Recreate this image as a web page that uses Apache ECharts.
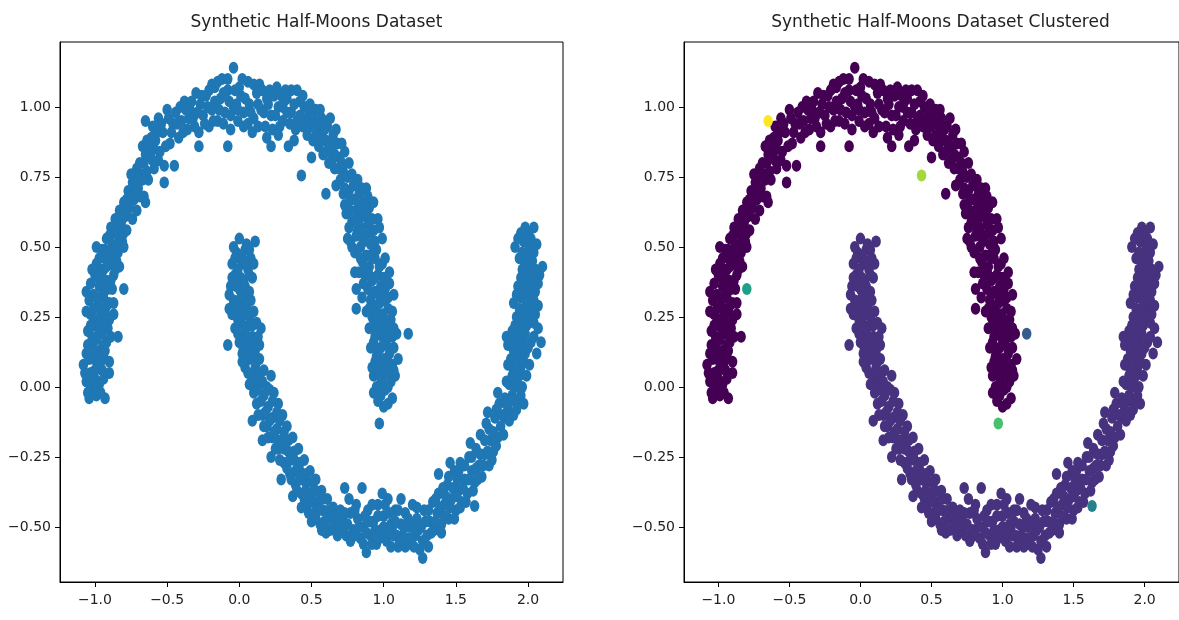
<!DOCTYPE html>
<html>
<head>
<meta charset="utf-8">
<script src="https://cdn.jsdelivr.net/npm/echarts@6/dist/echarts.min.js"></script>
<style>
html,body{margin:0;padding:0;background:#fff;}
#chart{width:1179px;height:620px;}
</style>
</head>
<body>
<div id="chart"></div>
<script>
// ---- DATA ----
const titles = ['Synthetic Half-Moons Dataset', 'Synthetic Half-Moons Dataset Clustered'];
const xTickVals = [-1.0, -0.5, 0.0, 0.5, 1.0, 1.5, 2.0];
const xTickLabels = ['\u22121.0', '\u22120.5', '0.0', '0.5', '1.0', '1.5', '2.0'];
const yTickVals = [-0.5, -0.25, 0.0, 0.25, 0.5, 0.75, 1.0];
const yTickLabels = ['\u22120.50', '\u22120.25', '0.00', '0.25', '0.50', '0.75', '1.00'];

// upper moon (cluster 0)
const upperMoon = [
[1.03,-0.06],[0.98,-0.03],[1.01,-0.01],[0.95,0.00],[1.05,0.02],[0.99,0.03],[0.93,0.04],[1.02,0.05],[0.97,0.07],[1.06,0.08],
[0.94,0.09],[1.00,0.10],[1.04,0.12],[0.96,0.13],[0.91,0.14],[1.02,0.15],[0.98,0.01],[1.08,0.04],[1.10,0.10],
[1.00,-0.07],[0.96,-0.05],[1.06,-0.04],[0.93,-0.02],[1.03,0.00],[0.97,0.04],[1.07,0.06],[1.00,0.07],[0.92,0.07],[0.95,0.11],
[1.03,0.09],[0.98,0.14],[1.07,0.14],
[0.93,0.16],[1.00,0.17],[1.06,0.18],[0.96,0.19],[1.09,0.19],[0.90,0.21],[1.02,0.21],[0.97,0.23],[1.05,0.24],[0.92,0.25],
[0.99,0.26],[0.88,0.27],[1.03,0.28],[0.95,0.29],[0.81,0.28],[0.91,0.31],[1.00,0.31],[1.07,0.33],[0.94,0.34],[0.89,0.35],
[0.98,0.36],[0.81,0.35],[1.04,0.37],[0.92,0.38],[0.87,0.40],[0.96,0.40],[0.80,0.41],[1.04,0.41],[0.90,0.43],[0.99,0.44],
[0.85,0.45],[0.94,0.46],
[0.94,0.18],[1.03,0.18],[0.99,0.20],[0.93,0.22],[1.07,0.21],[1.01,0.24],[0.95,0.26],[0.90,0.28],[1.06,0.27],[0.97,0.30],
[1.03,0.32],[0.92,0.33],[0.97,0.33],[0.85,0.32],[1.01,0.35],[0.86,0.37],[0.94,0.39],[1.00,0.39],[0.90,0.40],[0.83,0.41],
[0.97,0.43],[0.87,0.43],[1.01,0.46],[0.91,0.47],
[0.88,0.47],[0.80,0.48],[0.95,0.49],[0.84,0.50],[0.91,0.51],[0.77,0.52],[0.99,0.53],[0.87,0.54],[0.75,0.53],[0.82,0.56],
[0.93,0.56],[0.89,0.58],[0.78,0.59],[0.85,0.61],[0.96,0.60],[0.74,0.62],[0.81,0.63],[0.90,0.64],[0.86,0.66],[0.77,0.67],
[0.83,0.69],[0.72,0.69],[0.88,0.71],[0.85,0.71],[0.79,0.72],[0.70,0.74],[0.75,0.75],[0.60,0.69],
[0.84,0.46],[0.78,0.50],[0.86,0.52],[0.94,0.52],[0.81,0.54],[0.90,0.55],[0.97,0.57],[0.84,0.57],[0.76,0.57],[0.92,0.60],
[0.81,0.60],[0.88,0.62],[0.77,0.63],[0.84,0.64],[0.93,0.66],[0.73,0.65],[0.80,0.67],[0.89,0.68],[0.76,0.70],[0.82,0.74],
[0.67,0.72],[0.78,0.76],[0.73,0.71],
[0.72,0.77],[0.66,0.78],[0.76,0.80],[0.62,0.80],[0.69,0.82],[0.58,0.83],[0.73,0.84],[0.64,0.85],[0.55,0.86],[0.68,0.87],
[0.60,0.88],[0.51,0.88],[0.65,0.90],[0.56,0.91],[0.47,0.90],[0.61,0.93],[0.52,0.94],[0.44,0.93],[0.57,0.96],[0.48,0.97],
[0.40,0.95],[0.53,0.99],[0.45,1.00],[0.38,0.88],[0.34,0.86],[0.50,0.82],
[0.69,0.78],[0.64,0.81],[0.71,0.80],[0.60,0.84],[0.66,0.83],[0.71,0.87],[0.62,0.87],[0.57,0.88],[0.53,0.90],[0.67,0.92],
[0.59,0.92],[0.49,0.93],[0.55,0.94],[0.63,0.96],[0.51,0.97],[0.46,0.95],[0.42,0.97],[0.49,1.01],[0.56,0.99],
[0.42,1.02],[0.36,0.98],[0.40,1.06],[0.33,1.03],[0.30,0.95],[0.36,1.06],[0.32,1.06],[0.27,1.00],[0.24,1.04],[0.28,0.93],
[0.22,0.97],[0.19,1.03],[0.26,1.07],[0.15,0.99],[0.18,0.93],[0.12,1.05],[0.10,0.96],[0.14,1.08],[0.07,1.01],[0.06,0.94],
[0.06,1.09],[0.03,0.98],[0.01,1.04],[-0.01,0.95],[0.00,1.07],[-0.04,1.14],[-0.04,1.00],[-0.06,0.92],[-0.08,1.06],[-0.10,0.98],
[-0.12,1.10],[-0.13,1.03],[-0.15,0.95],[-0.17,1.07],[-0.19,1.08],[-0.19,0.99],[-0.21,0.93],[-0.23,1.04],[-0.25,0.97],[-0.27,1.01],
[-0.28,0.91],[-0.30,1.05],[-0.32,0.96],[-0.34,0.99],[-0.36,0.92],[-0.38,1.02],[-0.40,0.95],[-0.42,0.89],[-0.44,0.98],[0.22,0.86],
[-0.08,0.86],[-0.28,0.86],[0.09,0.91],[0.20,1.01],[-0.02,1.01],[0.30,1.00],
[0.44,1.04],[0.38,1.01],[0.39,0.92],[0.35,0.94],[0.31,1.02],[0.33,0.98],[0.25,0.97],[0.29,1.04],[0.21,1.06],[0.23,0.92],
[0.17,0.98],[0.16,1.06],[0.13,1.01],[0.13,0.93],[0.10,1.08],[0.08,0.98],[0.04,1.03],[0.03,0.93],[0.02,1.10],[-0.01,0.99],
[-0.03,1.06],[-0.06,0.97],[-0.07,1.02],[-0.08,1.10],[-0.11,0.94],[-0.11,1.05],[-0.14,0.99],[-0.15,1.09],[-0.17,1.02],[-0.18,0.95],
[-0.21,1.06],[-0.22,1.00],[-0.24,0.94],[-0.26,1.04],[-0.29,0.98],[-0.31,0.93],[-0.33,1.02],[-0.35,0.96],[-0.37,0.99],[-0.39,0.91],
[-0.41,1.00],[-0.43,0.94],[0.27,0.90],[0.19,0.89],
[-0.46,0.94],[-0.50,0.99],[-0.48,0.87],[-0.53,0.91],[-0.56,0.96],[-0.55,0.84],[-0.58,0.88],[-0.60,0.93],[-0.52,0.79],[-0.62,0.83],
[-0.64,0.88],[-0.45,0.79],[-0.66,0.80],[-0.59,0.78],[-0.68,0.76],[-0.63,0.74],[-0.71,0.78],[-0.70,0.71],[-0.74,0.73],[-0.66,0.68],
[-0.73,0.67],[-0.77,0.70],[-0.76,0.64],[-0.80,0.66],[-0.65,0.66],[-0.52,0.73],[-0.79,0.61],[-0.83,0.63],[-0.82,0.58],[-0.86,0.60],
[-0.78,0.56],[-0.85,0.55],[-0.89,0.57],[-0.81,0.52],[-0.88,0.51],[-0.92,0.53],[-0.84,0.48],[-0.91,0.47],[-0.95,0.49],[-0.87,0.45],
[-0.47,0.91],[-0.49,0.96],[-0.51,0.86],[-0.54,0.94],[-0.57,0.91],[-0.56,0.81],[-0.59,0.85],[-0.61,0.89],[-0.60,0.81],[-0.63,0.86],
[-0.65,0.83],[-0.67,0.86],[-0.64,0.77],[-0.67,0.74],[-0.69,0.80],[-0.71,0.75],[-0.69,0.68],[-0.72,0.71],[-0.75,0.76],[-0.75,0.68],
[-0.71,0.63],[-0.78,0.67],[-0.74,0.60],[-0.78,0.63],[-0.81,0.60],[-0.84,0.58],[-0.80,0.55],[-0.83,0.53],[-0.87,0.55],[-0.90,0.54],
[-0.86,0.50],[-0.80,0.50],[-0.89,0.48],[-0.93,0.46],[-0.85,0.45],
[-0.97,0.46],[-0.90,0.44],[-0.83,0.43],[-0.94,0.42],[-1.00,0.40],[-0.87,0.40],[-0.92,0.38],[-0.97,0.36],[-0.88,0.35],[-1.01,0.33],
[-0.94,0.32],[-0.90,0.30],[-1.06,0.34],[-0.98,0.29],[-0.93,0.27],[-1.03,0.26],[-0.87,0.26],[-0.96,0.24],[-1.00,0.22],[-0.91,0.21],
[-1.05,0.20],[-0.95,0.19],[-0.99,0.17],[-0.92,0.16],[-0.84,0.18],[-1.03,0.15],[-0.97,0.13],[-1.06,0.12],[-0.94,0.11],[-1.01,0.10],
[-0.98,0.08],[-1.08,0.08],[-0.95,0.06],[-1.03,0.05],[-0.90,0.09],[-0.90,0.05],[-1.00,0.03],[-1.06,0.02],[-0.97,0.01],[-1.02,-0.01],
[-0.99,-0.03],[-1.05,-0.02],[-0.93,-0.04],[-0.96,0.42],[-0.99,0.50],[-0.93,0.49],
[-0.99,0.44],[-0.92,0.43],[-0.86,0.42],[-1.02,0.42],[-0.95,0.39],[-0.89,0.38],[-0.98,0.39],[-1.03,0.37],[-0.91,0.35],[-0.95,0.35],
[-1.04,0.31],[-0.99,0.32],[-0.92,0.29],[-0.87,0.30],[-1.01,0.28],[-0.96,0.27],[-1.06,0.27],[-0.90,0.24],[-0.99,0.24],[-1.03,0.22],
[-0.94,0.22],[-0.97,0.20],[-1.02,0.18],[-0.89,0.18],[-0.94,0.15],[-1.00,0.13],[-1.05,0.15],[-0.93,0.13],[-0.98,0.11],[-1.04,0.10],
[-0.96,0.09],[-1.07,0.05],[-1.00,0.06],[-0.94,0.03],[-1.03,0.02],[-0.99,0.00],[-1.04,-0.04],[-0.96,-0.02]
];

// lower moon (cluster 1)
const lowerMoon = [
[0.00,0.53],[0.11,0.52],[-0.02,0.48],[0.04,0.49],[0.08,0.46],[-0.05,0.44],[0.02,0.44],[0.06,0.42],[-0.03,0.40],[0.03,0.38],
[0.09,0.39],[-0.06,0.36],[0.00,0.35],[0.05,0.33],[-0.04,0.31],[0.02,0.30],[0.08,0.31],[-0.07,0.28],[-0.01,0.27],[0.04,0.26],
[0.10,0.27],[0.12,0.23],[0.01,0.23],[0.06,0.22],[-0.03,0.21],[0.15,0.21],[0.03,0.19],[0.09,0.18],[-0.08,0.15],[0.00,0.16],
[0.06,0.15],[0.11,0.13],[0.02,0.12],[0.14,0.10],[0.07,0.10],[0.04,0.07],[0.11,0.07],[0.17,0.06],[0.09,0.04],[0.22,0.04],
[0.13,0.02],[0.07,0.01],[0.19,0.00],
[0.05,0.51],[-0.04,0.50],[0.07,0.49],[0.01,0.47],[0.10,0.44],[-0.03,0.46],[0.04,0.45],[-0.01,0.42],[0.07,0.40],[-0.05,0.39],
[0.01,0.39],[-0.02,0.36],[0.04,0.36],[-0.07,0.33],[0.01,0.32],[0.07,0.34],[-0.02,0.29],[0.05,0.29],[-0.05,0.26],[0.02,0.26],
[0.07,0.25],[-0.01,0.24],[0.09,0.22],[0.04,0.21],[0.13,0.18],[-0.01,0.19],[0.06,0.18],[0.02,0.15],[0.09,0.15],[0.14,0.15],
[0.05,0.12],[0.09,0.12],[0.12,0.09],[0.02,0.09],[0.06,0.05],[0.14,0.05],[0.16,0.02],[0.10,0.00],
[0.10,-0.02],[0.17,-0.03],[0.24,-0.02],[0.12,-0.06],[0.20,-0.07],[0.27,-0.06],[0.09,-0.12],[0.16,-0.10],[0.23,-0.11],[0.30,-0.10],
[0.19,-0.14],[0.26,-0.15],[0.33,-0.14],[0.16,-0.19],[0.23,-0.18],[0.30,-0.19],[0.37,-0.18],[0.22,-0.25],[0.27,-0.22],[0.34,-0.23],
[0.41,-0.22],[0.31,-0.27],[0.38,-0.26],[0.45,-0.26],[0.29,-0.33],[0.35,-0.31],[0.42,-0.30],[0.49,-0.30],[0.39,-0.35],[0.46,-0.34],
[0.53,-0.33],[0.37,-0.39],[0.43,-0.38],[0.50,-0.38],[0.57,-0.37],[0.43,-0.43],[0.47,-0.42],[0.54,-0.41],[0.61,-0.40],[0.50,-0.48],
[0.52,-0.45],[0.58,-0.44],[0.65,-0.43],[0.56,-0.49],[0.62,-0.47],[0.69,-0.46],[0.73,-0.36],[0.60,-0.52],
[0.13,-0.01],[0.21,-0.01],[0.15,-0.05],[0.23,-0.05],[0.18,-0.09],[0.26,-0.09],[0.13,-0.10],[0.21,-0.12],[0.28,-0.12],[0.17,-0.14],
[0.24,-0.16],[0.31,-0.16],[0.20,-0.18],[0.27,-0.19],[0.34,-0.19],[0.25,-0.22],[0.31,-0.22],[0.38,-0.23],[0.28,-0.26],[0.35,-0.26],
[0.42,-0.27],[0.33,-0.29],[0.39,-0.30],[0.46,-0.31],[0.36,-0.33],[0.42,-0.33],[0.50,-0.34],[0.40,-0.37],[0.46,-0.37],[0.53,-0.37],
[0.45,-0.40],[0.51,-0.41],[0.57,-0.40],[0.48,-0.45],[0.55,-0.44],[0.62,-0.44],[0.53,-0.47],[0.59,-0.48],[0.66,-0.46],[0.57,-0.51],
[0.63,-0.51],[0.68,-0.48],
[0.66,-0.50],[0.70,-0.44],[0.74,-0.53],[0.72,-0.48],[0.77,-0.45],[0.79,-0.51],[0.76,-0.40],[0.82,-0.47],[0.84,-0.54],[0.81,-0.42],
[0.88,-0.59],[0.86,-0.50],[0.85,-0.36],[0.89,-0.44],[0.91,-0.53],[0.93,-0.48],[0.95,-0.56],[0.96,-0.42],[0.98,-0.51],[1.00,-0.46],
[1.02,-0.55],[1.03,-0.40],[1.05,-0.49],[1.07,-0.53],[1.08,-0.44],[1.10,-0.57],[1.12,-0.49],[1.13,-0.53],[1.15,-0.45],[1.17,-0.56],
[1.18,-0.50],[1.20,-0.42],[1.22,-0.53],[1.23,-0.47],[1.25,-0.58],[1.27,-0.61],[1.26,-0.50],[1.28,-0.44],[1.30,-0.53],[1.32,-0.48],
[1.34,-0.41],[1.35,-0.51],[1.37,-0.45],[1.38,-0.38],[1.40,-0.49],[1.12,-0.40],[0.99,-0.38],[1.16,-0.54],
[0.68,-0.53],[0.71,-0.51],[0.73,-0.45],[0.75,-0.49],[0.77,-0.55],[0.80,-0.44],[0.80,-0.53],[0.83,-0.50],[0.86,-0.56],[0.87,-0.46],
[0.88,-0.52],[0.90,-0.48],[0.92,-0.42],[0.92,-0.56],[0.94,-0.51],[0.96,-0.46],[0.97,-0.54],[1.00,-0.50],[1.01,-0.42],[1.02,-0.52],
[1.04,-0.45],[1.05,-0.57],[1.06,-0.50],[1.08,-0.48],[1.09,-0.53],[1.10,-0.44],[1.11,-0.55],[1.14,-0.50],[1.15,-0.57],[1.17,-0.47],
[1.19,-0.54],[1.20,-0.49],[1.21,-0.57],[1.23,-0.43],[1.24,-0.51],[1.27,-0.55],[1.29,-0.48],[1.31,-0.57],[1.31,-0.44],[1.33,-0.52],
[1.36,-0.48],[1.36,-0.40],[1.39,-0.43],[1.40,-0.52],
[1.42,-0.42],[1.44,-0.35],[1.45,-0.47],[1.47,-0.40],[1.49,-0.30],[1.50,-0.44],[1.52,-0.37],[1.53,-0.27],[1.54,-0.41],[1.56,-0.33],
[1.58,-0.38],[1.59,-0.25],[1.60,-0.20],[1.61,-0.30],[1.63,-0.34],[1.64,-0.22],[1.66,-0.28],[1.67,-0.17],[1.68,-0.32],[1.70,-0.24],
[1.71,-0.13],[1.72,-0.09],[1.73,-0.28],[1.74,-0.19],[1.76,-0.23],[1.77,-0.11],[1.79,-0.18],[1.80,-0.06],[1.38,-0.31],[1.46,-0.27],
[1.41,-0.36],[1.51,-0.33],
[1.42,-0.46],[1.43,-0.39],[1.45,-0.32],[1.46,-0.43],[1.48,-0.36],[1.49,-0.47],[1.50,-0.39],[1.52,-0.30],[1.53,-0.43],[1.55,-0.36],
[1.56,-0.28],[1.57,-0.41],[1.59,-0.33],[1.61,-0.25],[1.62,-0.37],[1.64,-0.29],[1.65,-0.33],[1.67,-0.24],[1.69,-0.28],[1.70,-0.19],
[1.72,-0.23],[1.73,-0.15],[1.75,-0.26],[1.76,-0.16],[1.78,-0.21],[1.78,-0.08],[1.81,-0.14],[1.83,-0.17],[1.84,-0.11],
[1.82,-0.10],[1.86,-0.08],[1.90,-0.10],[1.84,-0.04],[1.89,-0.03],[1.93,-0.05],[1.97,-0.06],[1.87,0.01],[1.92,0.02],[1.96,0.00],
[1.90,0.06],[1.95,0.07],[2.01,0.08],[1.88,0.10],[1.93,0.11],[1.98,0.12],[1.86,0.15],[1.91,0.16],[1.96,0.17],[2.02,0.16],
[2.09,0.16],[1.89,0.20],[1.94,0.21],[1.99,0.22],[2.04,0.23],[1.92,0.25],[1.97,0.27],[2.02,0.28],[2.07,0.29],[1.90,0.30],
[1.95,0.32],[2.00,0.33],[2.05,0.34],[1.93,0.36],[1.98,0.38],[2.03,0.39],[2.08,0.40],[1.96,0.42],[2.01,0.43],[2.10,0.43],
[1.94,0.46],[1.99,0.47],[2.04,0.48],[1.91,0.50],[1.97,0.52],[2.02,0.53],[1.98,0.57],[2.04,0.57],[1.79,-0.02],[1.85,0.18],
[2.06,0.12],
[1.87,-0.12],[1.85,-0.06],[1.92,-0.08],[1.88,-0.05],[1.95,-0.03],[1.91,0.00],[1.85,0.02],[1.94,0.04],[1.89,0.04],[1.99,0.04],
[1.92,0.08],[1.97,0.09],[1.86,0.08],[1.90,0.13],[1.95,0.14],[2.00,0.14],[2.04,0.18],[1.88,0.17],[1.93,0.19],[1.98,0.19],
[2.07,0.21],[1.91,0.22],[1.96,0.24],[2.01,0.25],[1.94,0.28],[2.05,0.26],[1.99,0.30],[2.04,0.31],[1.92,0.33],[1.97,0.35],
[2.02,0.36],[2.07,0.37],[1.95,0.39],[2.00,0.40],[2.05,0.42],[1.98,0.44],[2.03,0.45],[1.96,0.48],[2.01,0.50],[1.93,0.53],
[2.06,0.51],[2.00,0.55],[1.95,0.55]
];

// isolated points with their own cluster labels
const otherPoints = [[-0.65,0.95],[0.43,0.755],[-0.80,0.35],[1.17,0.19],[0.97,-0.13],[1.63,-0.425]];
const otherLabels = [7, 6, 4, 2, 5, 3];

// viridis colours for labels 0..7
const labelColors = ['#440154','#46327e','#375b8d','#27808e','#1fa088','#48c16e','#a0da39','#fde725'];
const singleColor = '#1f77b4';

// ---- CHART ----
const chart = echarts.init(document.getElementById('chart'), null, {renderer: 'canvas'});
const FONT = 'DejaVu Sans';
const dot = 'path://M1,0A1,1,0,1,1,-1,0A1,1,0,1,1,1,0Z';
const dotSize = [9.5, 12];

function xAxisFor(i) {
  return {
    type: 'value', gridIndex: i, min: -1.242, max: 2.242,
    axisLine: {show: true, onZero: false, lineStyle: {color: '#000', width: 1}},
    axisTick: {show: true, customValues: xTickVals, length: 5, lineStyle: {color: '#000', width: 1}},
    axisLabel: {show: true, customValues: xTickVals, margin: 11, fontFamily: FONT, fontSize: 14, color: '#222',
      formatter: v => xTickLabels[xTickVals.findIndex(t => Math.abs(t - v) < 1e-6)] || ''},
    splitLine: {show: false}
  };
}
function yAxisFor(i) {
  return {
    type: 'value', gridIndex: i, min: -0.696, max: 1.232,
    axisLine: {show: true, onZero: false, lineStyle: {color: '#000', width: 1}},
    axisTick: {show: true, customValues: yTickVals, length: 5, lineStyle: {color: '#000', width: 1}},
    axisLabel: {show: true, customValues: yTickVals, margin: 9, fontFamily: FONT, fontSize: 14, color: '#222',
      formatter: v => yTickLabels[yTickVals.findIndex(t => Math.abs(t - v) < 1e-6)] || ''},
    splitLine: {show: false}
  };
}

const otherData = otherPoints.map((p, i) => ({value: p, itemStyle: {color: labelColors[otherLabels[i]]}}));

chart.setOption({
  animation: false,
  backgroundColor: '#fff',
  title: [
    {text: titles[0], left: 311.5, top: 9, textAlign: 'center',
     textStyle: {fontFamily: FONT, fontSize: 17, fontWeight: 'normal', color: '#222'}},
    {text: titles[1], left: 935.5, top: 9, textAlign: 'center',
     textStyle: {fontFamily: FONT, fontSize: 17, fontWeight: 'normal', color: '#222'}}
  ],
  grid: [
    {left: 60, top: 42, width: 503, height: 540, show: true, borderColor: '#000', borderWidth: 1, backgroundColor: 'transparent'},
    {left: 684, top: 42, width: 503, height: 540, show: true, borderColor: '#000', borderWidth: 1, backgroundColor: 'transparent'}
  ],
  xAxis: [xAxisFor(0), xAxisFor(1)],
  yAxis: [yAxisFor(0), yAxisFor(1)],
  series: [
    {type: 'scatter', xAxisIndex: 0, yAxisIndex: 0, symbol: dot, symbolSize: dotSize,
     itemStyle: {color: singleColor, opacity: 1}, data: upperMoon.concat(lowerMoon, otherPoints)},
    {type: 'scatter', xAxisIndex: 1, yAxisIndex: 1, symbol: dot, symbolSize: dotSize,
     itemStyle: {color: labelColors[0], opacity: 1}, data: upperMoon},
    {type: 'scatter', xAxisIndex: 1, yAxisIndex: 1, symbol: dot, symbolSize: dotSize,
     itemStyle: {color: labelColors[1], opacity: 1}, data: lowerMoon},
    {type: 'scatter', xAxisIndex: 1, yAxisIndex: 1, symbol: dot, symbolSize: dotSize,
     itemStyle: {opacity: 1}, data: otherData}
  ]
});
</script>
</body>
</html>
